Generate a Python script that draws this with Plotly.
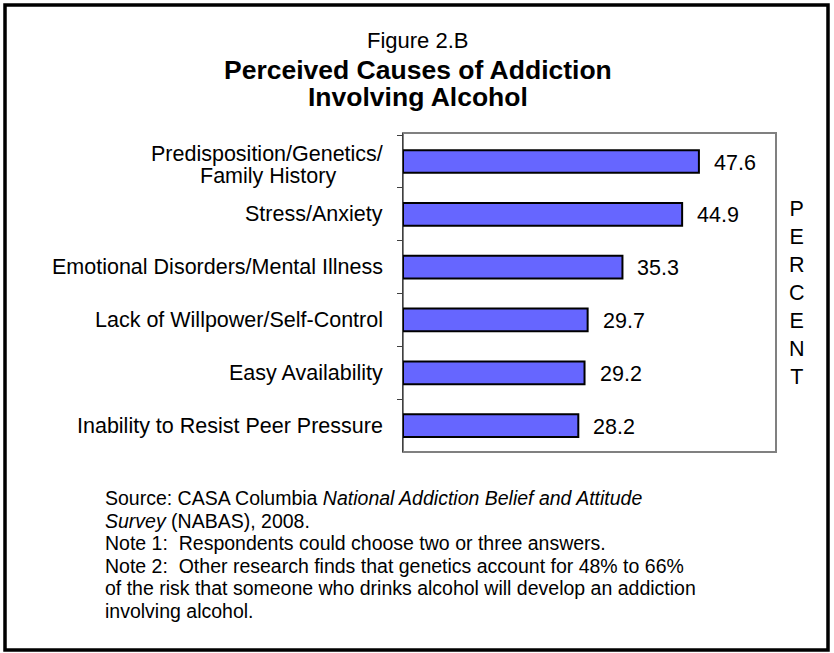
import plotly.graph_objects as go

W, H = 834, 653

categories = [
    "Predisposition/Genetics/<br>Family History",
    "Stress/Anxiety",
    "Emotional Disorders/Mental Illness",
    "Lack of Willpower/Self-Control",
    "Easy Availability",
    "Inability to Resist Peer Pressure",
]
values = [47.6, 44.9, 35.3, 29.7, 29.2, 28.2]
value_labels = ["47.6", "44.9", "35.3", "29.7", "29.2", "28.2"]

title_top = "Figure 2.B"
title_main = ["Perceived Causes of Addiction", "Involving Alcohol"]
axis_word = "PERCENT"
footnotes = [
    "Source: CASA Columbia <i>National Addiction Belief and Attitude</i>",
    "<i>Survey</i> (NABAS), 2008.",
    "Note 1:  Respondents could choose two or three answers.",
    "Note 2:  Other research finds that genetics account for 48% to 66%",
    "of the risk that someone who drinks alcohol will develop an addiction",
    "involving alcohol.",
]

FONT = "Liberation Sans, Arial, sans-serif"


def px(x):
    return x / W


def py(y):
    return 1 - y / H


# plot area in pixels
L, R, T, B = 403, 776, 133, 452

fig = go.Figure()
fig.add_trace(go.Bar(
    x=values, y=categories, orientation="h",
    marker=dict(color="#6666FF", line=dict(color="black", width=2)),
    hoverinfo="x+y",
))

annotations = []
# category labels
for i, (cat, val, lab) in enumerate(zip(categories, values, value_labels)):
    if "<br>" in cat:
        l1, l2 = cat.split("<br>")
        annotations.append(dict(text=l1, xref="paper", x=px(385), xanchor="right",
                                yref="y", y=cat, yanchor="middle", yshift=7.5,
                                showarrow=False, font=dict(size=21.5, family=FONT, color="black")))
        annotations.append(dict(text=l2, xref="paper", x=px(268), xanchor="center",
                                yref="y", y=cat, yanchor="middle", yshift=-14.5,
                                showarrow=False, font=dict(size=21.5, family=FONT, color="black")))
    else:
        annotations.append(dict(text=cat, xref="paper", x=px(385), xanchor="right",
                                yref="y", y=cat, yanchor="middle",
                                showarrow=False, font=dict(size=21.5, family=FONT, color="black")))
    annotations.append(dict(text=lab, xref="x", x=val, xanchor="left", xshift=13,
                            yref="y", y=cat, yanchor="middle", yshift=-1,
                            showarrow=False, font=dict(size=21.5, family=FONT, color="black")))

# titles
annotations.append(dict(text=title_top, xref="paper", yref="paper", x=px(418), y=py(41),
                        xanchor="center", yanchor="middle", showarrow=False,
                        font=dict(size=22, family=FONT, color="black")))
for t, yy in zip(title_main, [69.5, 96.5]):
    annotations.append(dict(text="<b>" + t + "</b>", xref="paper", yref="paper", x=px(418), y=py(yy),
                            xanchor="center", yanchor="middle", showarrow=False,
                            font=dict(size=26.5, family=FONT, color="black")))

# vertical PERCENT
annotations.append(dict(text="<br>".join(list(axis_word)), xref="paper", yref="paper",
                        x=px(797), y=py(293), xanchor="center", yanchor="middle",
                        align="center", showarrow=False,
                        font=dict(size=21.5, family=FONT, color="black")))

# footnotes
for t, yy in zip(footnotes, [498, 520.5, 543, 565.5, 588, 610.5]):
    annotations.append(dict(text=t, xref="paper", yref="paper", x=px(103), y=py(yy),
                            xanchor="left", yanchor="middle", showarrow=False,
                            font=dict(size=19.5, family=FONT, color="black")))

shapes = [
    # plot frame
    dict(type="rect", xref="paper", yref="paper", x0=px(L), x1=px(R), y0=py(B), y1=py(T),
         line=dict(color="#808080", width=2), layer="below"),
    # outer border
    dict(type="rect", xref="paper", yref="paper", x0=px(5), x1=px(828), y0=py(650), y1=py(5),
         line=dict(color="black", width=3.5)),
]

fig.update_layout(
    width=W, height=H,
    margin=dict(l=0, r=0, t=0, b=0),
    paper_bgcolor="white", plot_bgcolor="white",
    showlegend=False,
    bargap=0.57,
    font=dict(family=FONT, color="black"),
    xaxis=dict(domain=[px(L), px(R)], range=[0, 60], showgrid=False, zeroline=False,
               showticklabels=False, ticks="", showline=False, fixedrange=True),
    yaxis=dict(domain=[py(B), py(T)], autorange="reversed", showgrid=False, zeroline=False,
               showticklabels=False, ticks="outside", ticklen=5, tickcolor="#404040",
               tickson="boundaries", showline=True, linecolor="#404040", linewidth=1,
               fixedrange=True),
    annotations=annotations,
    shapes=shapes,
)

fig.write_html("out.html", config={"displayModeBar": False},
               post_script="document.body.style.margin='0';document.body.style.overflow='hidden';")
